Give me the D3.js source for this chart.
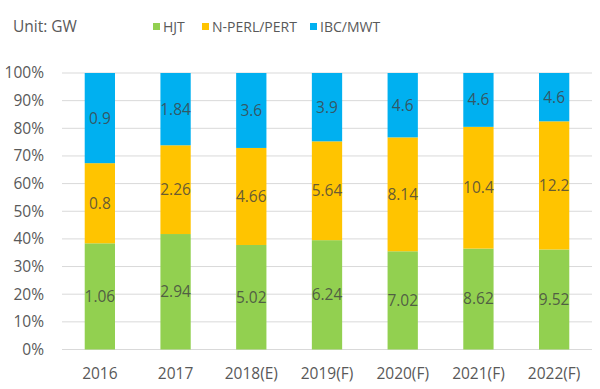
<!DOCTYPE html>
<html>
<head>
<meta charset="utf-8">
<script src="https://cdn.jsdelivr.net/npm/d3@7"></script>
<style>
  body{ margin:0; background:#fff; }
  svg{ display:block; font-family:"Open Sans", sans-serif; }
</style>
</head>
<body>
<svg id="chart" width="600" height="389"></svg>
<script>
/* Capacidad por tecnología (GW), apilada al 100% */
const years  = ["2016","2017","2018(E)","2019(F)","2020(F)","2021(F)","2022(F)"];
const hjt    = [1.06, 2.94, 5.02, 6.24, 7.02, 8.62, 9.52];
const nperl  = [0.8, 2.26, 4.66, 5.64, 8.14, 10.4, 12.2];
const ibc    = [0.9, 1.84, 3.6, 3.9, 4.6, 4.6, 4.6];
const seriesNames = ["HJT","N-PERL/PERT","IBC/MWT"];
const colors = ["#92D050","#FFC400","#00B0F0"];
const yTicks = [0,0.1,0.2,0.3,0.4,0.5,0.6,0.7,0.8,0.9,1];

const rows = years.map((y,i) => ({ year:y, "HJT":hjt[i], "N-PERL/PERT":nperl[i], "IBC/MWT":ibc[i] }));

const svg = d3.select("#chart");
const m = { left:62, right:8, top:73, bottom:39.5 };
const W = 600, H = 389;

const x = d3.scaleBand().domain(years).range([m.left, W - m.right]).paddingInner(0.6).paddingOuter(0.3);
const y = d3.scaleLinear().domain([0,1]).range([H - m.bottom, m.top]);

const stack = d3.stack().keys(seriesNames).offset(d3.stackOffsetExpand);
const layers = stack(rows);

// grid
svg.append("g").selectAll("line").data(yTicks).enter().append("line")
  .attr("x1", m.left).attr("x2", W - m.right)
  .attr("y1", d => y(d)).attr("y2", d => y(d))
  .attr("stroke", "#d9d9d9").attr("stroke-width", 1);

// y axis labels
const yAxis = svg.append("g").attr("transform", `translate(${m.left - 18},0)`)
  .call(d3.axisLeft(y).tickValues(yTicks).tickFormat(d3.format(".0%")).tickSize(0).tickPadding(0));
yAxis.select(".domain").remove();
yAxis.selectAll("text").attr("fill","#595959").style("font-size","15.5px").style("font-family","'Open Sans', sans-serif");

// x axis labels
const xAxis = svg.append("g").attr("transform", `translate(0,${H - m.bottom + 14})`)
  .call(d3.axisBottom(x).tickSize(0).tickPadding(4));
xAxis.select(".domain").remove();
xAxis.selectAll("text").attr("fill","#595959").style("font-size","15.5px").style("font-family","'Open Sans', sans-serif");

// bars
const g = svg.append("g");
layers.forEach((layer, li) => {
  const key = layer.key;
  g.append("g").selectAll("rect").data(layer).enter().append("rect")
    .attr("x", d => x(d.data.year))
    .attr("width", x.bandwidth())
    .attr("y", d => y(d[1]))
    .attr("height", d => y(d[0]) - y(d[1]))
    .attr("fill", colors[li]);
  g.append("g").selectAll("text").data(layer).enter().append("text")
    .attr("x", d => x(d.data.year) + x.bandwidth()/2)
    .attr("y", d => (y(d[0]) + y(d[1]))/2)
    .attr("dy","0.35em")
    .attr("text-anchor","middle")
    .attr("fill","#404040")
    .attr("fill-opacity",0.8)
    .style("font-size","15.5px")
    .text(d => d.data[key]);
});

// unit + legend
svg.append("text").attr("x",13).attr("y",32).attr("fill","#595959").style("font-size","15.5px").text("Unit: GW");
const legX = [153, 202, 310];
seriesNames.forEach((s,i) => {
  svg.append("rect").attr("x", legX[i]).attr("y", 23).attr("width", 7).attr("height", 7).attr("fill", colors[i]);
  svg.append("text").attr("x", legX[i] + 10).attr("y", 32).attr("fill","#595959").style("font-size","14px").text(s);
});
</script>
</body>
</html>
